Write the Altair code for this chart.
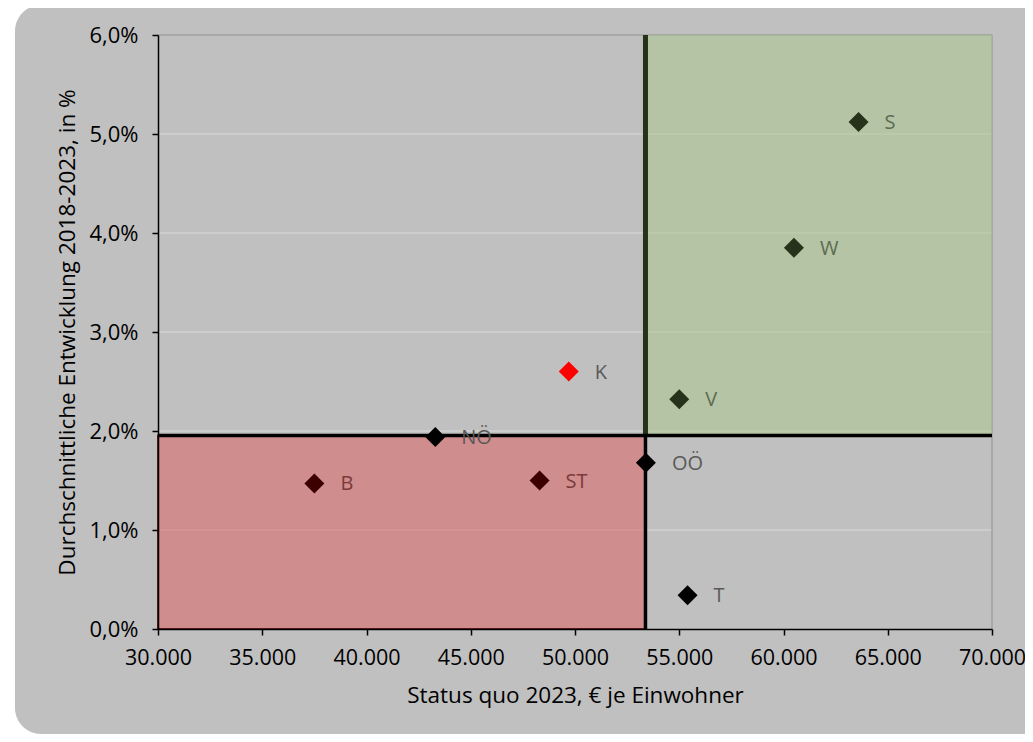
import altair as alt
import pandas as pd

# Daten
laender = ["S", "W", "K", "V", "NÖ", "B", "ST", "OÖ", "T"]
status_quo = [63600, 60500, 49700, 55000, 43300, 37500, 48300, 53400, 55400]
entwicklung = [5.12, 3.85, 2.60, 2.32, 1.94, 1.47, 1.50, 1.68, 0.34]
zone = ["gruen", "gruen", "hervor", "gruen", "grau", "rot", "rot", "grau", "grau"]

x_schwelle = 53380
y_schwelle = 1.955
x_min, x_max = 30000, 70000
y_min, y_max = 0.0, 6.0
x_ticks = [30000, 35000, 40000, 45000, 50000, 55000, 60000, 65000, 70000]
y_ticks = [0, 1, 2, 3, 4, 5, 6]

W, H = 834, 594
FONT = "Open Sans"

df = pd.DataFrame({"land": laender, "x": status_quo, "y": entwicklung, "zone": zone})

xs = alt.Scale(domain=[x_min, x_max], nice=False, zero=False)
ys = alt.Scale(domain=[y_min, y_max], nice=False, zero=False)

x_axis = alt.Axis(
    values=x_ticks,
    labelExpr="replace(format(datum.value, ',.0f'), ',', '.')",
    title="Status quo 2023, € je Einwohner",
    grid=False, domainColor="black", domainWidth=1.5,
    tickColor="black", tickWidth=1.5, tickSize=6,
    labelFont=FONT, labelFontSize=21.5, labelColor="black", labelPadding=12,
    labelFlush=False, labelOverlap=False,
    titleFont=FONT, titleFontSize=22.5, titleFontWeight="normal", titleColor="black",
    titlePadding=16, zindex=2,
)
y_axis = alt.Axis(
    values=y_ticks,
    labelExpr="replace(format(datum.value, '.1f'), '.', ',') + '%'",
    title="Durchschnittliche Entwicklung 2018-2023, in %",
    grid=False, domainColor="black", domainWidth=1.5,
    tickColor="black", tickWidth=1.5, tickSize=6,
    labelFont=FONT, labelFontSize=22, labelColor="black", labelPadding=14,
    labelFlush=False, labelOverlap=False,
    titleFont=FONT, titleFontSize=22.5, titleFontWeight="normal", titleColor="black",
    titlePadding=9, zindex=2,
)

X = lambda f: alt.X(f, scale=xs, axis=x_axis)
Y = lambda f: alt.Y(f, scale=ys, axis=y_axis)

# Hintergrund-Panel mit abgerundeten Ecken
panel = alt.Chart(pd.DataFrame({"a": [0]})).mark_rect(
    color="#c0c0c0", cornerRadius=26, clip=False
).encode(
    x=alt.value(-143), x2=alt.value(W + 60), y=alt.value(-30), y2=alt.value(H + 105)
)

grid = alt.Chart(pd.DataFrame({"y": y_ticks[1:-1]})).mark_rule(
    color="#dadada", strokeWidth=1.2
).encode(y=Y("y:Q"))

# Rahmen oben und rechts
frame_top = alt.Chart(pd.DataFrame({"y": [y_max]})).mark_rule(
    color="#a0a0a0", strokeWidth=1.5
).encode(y=Y("y:Q"))
frame_right = alt.Chart(pd.DataFrame({"x": [x_max]})).mark_rule(
    color="#a0a0a0", strokeWidth=1.5
).encode(x=X("x:Q"))

rects_df = pd.DataFrame({
    "x": [x_min, x_schwelle], "x2": [x_schwelle, x_max],
    "y": [y_min, y_schwelle], "y2": [y_schwelle, y_max],
    "z": ["rot", "gruen"],
})
rect_scale = alt.Scale(domain=["rot", "gruen"], range=["#e05a5a", "#a8c888"])
rects = alt.Chart(rects_df).mark_rect(opacity=0.5).encode(
    x=X("x:Q"), x2="x2:Q", y=Y("y:Q"), y2="y2:Q",
    color=alt.Color("z:N", scale=rect_scale, legend=None),
)
red_border = alt.Chart(rects_df.iloc[[0]]).mark_rect(
    fillOpacity=0, stroke="#6e1a1a", strokeWidth=2
).encode(x=X("x:Q"), x2="x2:Q", y=Y("y:Q"), y2="y2:Q")

v_top = alt.Chart(pd.DataFrame({"x": [x_schwelle], "y": [y_schwelle], "y2": [y_max]})).mark_rule(
    color="#263219", strokeWidth=5
).encode(x=X("x:Q"), y=Y("y:Q"), y2="y2:Q")
v_bot = alt.Chart(pd.DataFrame({"x": [x_schwelle], "y": [y_min], "y2": [y_schwelle]})).mark_rule(
    color="black", strokeWidth=3.5
).encode(x=X("x:Q"), y=Y("y:Q"), y2="y2:Q")
h_line = alt.Chart(pd.DataFrame({"x": [x_min], "x2": [x_max], "y": [y_schwelle]})).mark_rule(
    color="black", strokeWidth=3.5
).encode(x=X("x:Q"), x2="x2:Q", y=Y("y:Q"))

marker_scale = alt.Scale(domain=["gruen", "rot", "grau", "hervor"],
                         range=["#263219", "#3c0000", "#000000", "#ff0000"])
label_scale = alt.Scale(domain=["gruen", "rot", "grau", "hervor"],
                        range=["#5d6b52", "#7a3a3a", "#595959", "#595959"])

points = alt.Chart(df).mark_point(shape="diamond", filled=True, size=400, opacity=1).encode(
    x=X("x:Q"), y=Y("y:Q"),
    color=alt.Color("zone:N", scale=marker_scale, legend=None),
)
labels = alt.Chart(df).mark_text(
    align="left", baseline="middle", dx=26, dy=1, font=FONT, fontSize=20
).encode(
    x=X("x:Q"), y=Y("y:Q"), text="land:N",
    color=alt.Color("zone:N", scale=label_scale, legend=None),
)

chart = alt.layer(
    panel, grid, frame_top, frame_right, rects, red_border, v_top, v_bot, h_line, labels, points
).resolve_scale(color="independent").properties(
    width=W, height=H,
    autosize=alt.AutoSizeParams(type="none"),
    padding={"left": 150, "top": 27, "right": 33, "bottom": 105},
    background="white",
).configure_view(stroke=None, fill=None)

chart.save("out.html", embed_options={"renderer": "svg", "actions": False})
